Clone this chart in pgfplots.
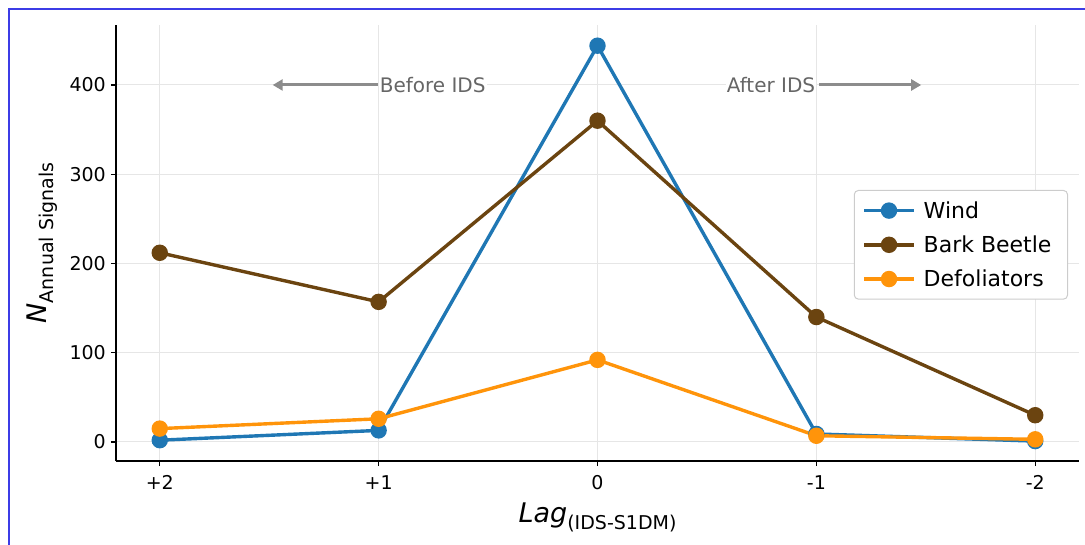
\documentclass[border=0pt]{standalone}
\usepackage{fontspec}
\setmainfont{DejaVu Sans}
\usepackage{pgfplots}
\pgfplotsset{compat=1.18}
\usetikzlibrary{arrows.meta}
\definecolor{cwind}{HTML}{1F77B4}
\definecolor{cbark}{HTML}{6B4410}
\definecolor{cdef}{HTML}{FF940A}
\definecolor{cgrid}{HTML}{E6E6E6}
\definecolor{cframe}{RGB}{60,60,230}
\definecolor{carrow}{HTML}{8C8C8C}
\definecolor{cannot}{HTML}{666666}
\definecolor{clegend}{HTML}{CCCCCC}
\newcommand{\tf}{\fontsize{19}{22}\selectfont}
\begin{document}
\begin{tikzpicture}
\useasboundingbox (0pt,0pt) rectangle (1085pt,-544pt);
\draw[cframe, line width=1.2pt] (9pt,-546pt) -- (9pt,-9pt) -- (1087pt,-9pt);
\begin{axis}[
  at={(116pt,-461pt)}, anchor=south west,
  scale only axis, width=963pt, height=436pt,
  xmin=-0.2, xmax=4.2, ymin=-21.3, ymax=467.2,
  axis x line*=bottom, axis y line*=left,
  axis line style={black, line width=1.1pt},
  xtick={0,1,2,3,4}, xticklabels={{\tf +2},{\tf +1},{\tf 0},{\tf -1},{\tf -2}},
  ytick={0,100,200,300,400}, yticklabels={{\tf 0},{\tf 100},{\tf 200},{\tf 300},{\tf 400}},
  tick align=outside, major tick length=5pt,
  tick style={black, line width=1.1pt},
  grid=major, grid style={cgrid, line width=1pt},
  /pgf/number format/assume math mode=true,
  xticklabel style={inner sep=0pt, anchor=north, yshift=-9pt},
  yticklabel style={inner sep=0pt, anchor=east, xshift=-5pt},
  xlabel={\fontsize{27}{32}\selectfont\textit{Lag}\raisebox{-7pt}{\fontsize{19}{22}\selectfont(IDS-S1DM)}},
  xlabel style={at={(axis description cs:0.5,-0.1399)}, anchor=base, inner sep=0pt},
  ylabel={\fontsize{27}{32}\selectfont\textit{N}\raisebox{-7pt}{\fontsize{19}{22}\selectfont Annual Signals}},
  ylabel style={at={(axis description cs:-0.0602,0.5)}, anchor=south, inner sep=0pt, rotate=0},
  legend cell align=left,
  legend image code/.code={\draw[mark repeat=2,mark phase=2,#1] plot coordinates {(0pt,0pt) (25pt,0pt) (50pt,0pt)};},
  legend style={at={(rel axis cs:0.9886,0.6216)}, anchor=north east,
    draw=clegend, line width=1pt, rounded corners=4pt, fill=white,
    font=\fontsize{22}{26}\selectfont, inner xsep=8pt, inner ysep=9pt,
    row sep=12pt,
    nodes={inner xsep=8pt}},
  every axis plot/.append style={line width=3.4pt, mark=*, mark size=6.5pt,
    mark options={draw=white, line width=1pt}},
]
\addplot[cwind, mark options={fill=cwind}] coordinates {(0,2) (1,13) (2,444) (3,9) (4,1)};
\addlegendentry{Wind}
\addplot[cbark, mark options={fill=cbark}] coordinates {(0,212) (1,157) (2,360) (3,140) (4,30)};
\addlegendentry{Bark Beetle}
\addplot[cdef, mark options={fill=cdef}] coordinates {(0,15) (1,26) (2,92) (3,7) (4,3)};
\addlegendentry{Defoliators}
\draw[carrow, line width=3pt, -{Triangle[length=10pt,width=11pt]}] (axis cs:0.995,400) -- (axis cs:0.516,400);
\draw[carrow, line width=3pt, -{Triangle[length=10pt,width=11pt]}] (axis cs:3.014,400) -- (axis cs:3.479,400);
\node[anchor=west, inner sep=1pt, fill=white, text=cannot, font=\fontsize{20}{24}\selectfont] at (axis cs:1.0,400) {Before IDS};
\node[anchor=east, inner sep=1pt, fill=white, text=cannot, font=\fontsize{20}{24}\selectfont] at (axis cs:3.0,400) {After IDS};
\end{axis}
\end{tikzpicture}
\end{document}
